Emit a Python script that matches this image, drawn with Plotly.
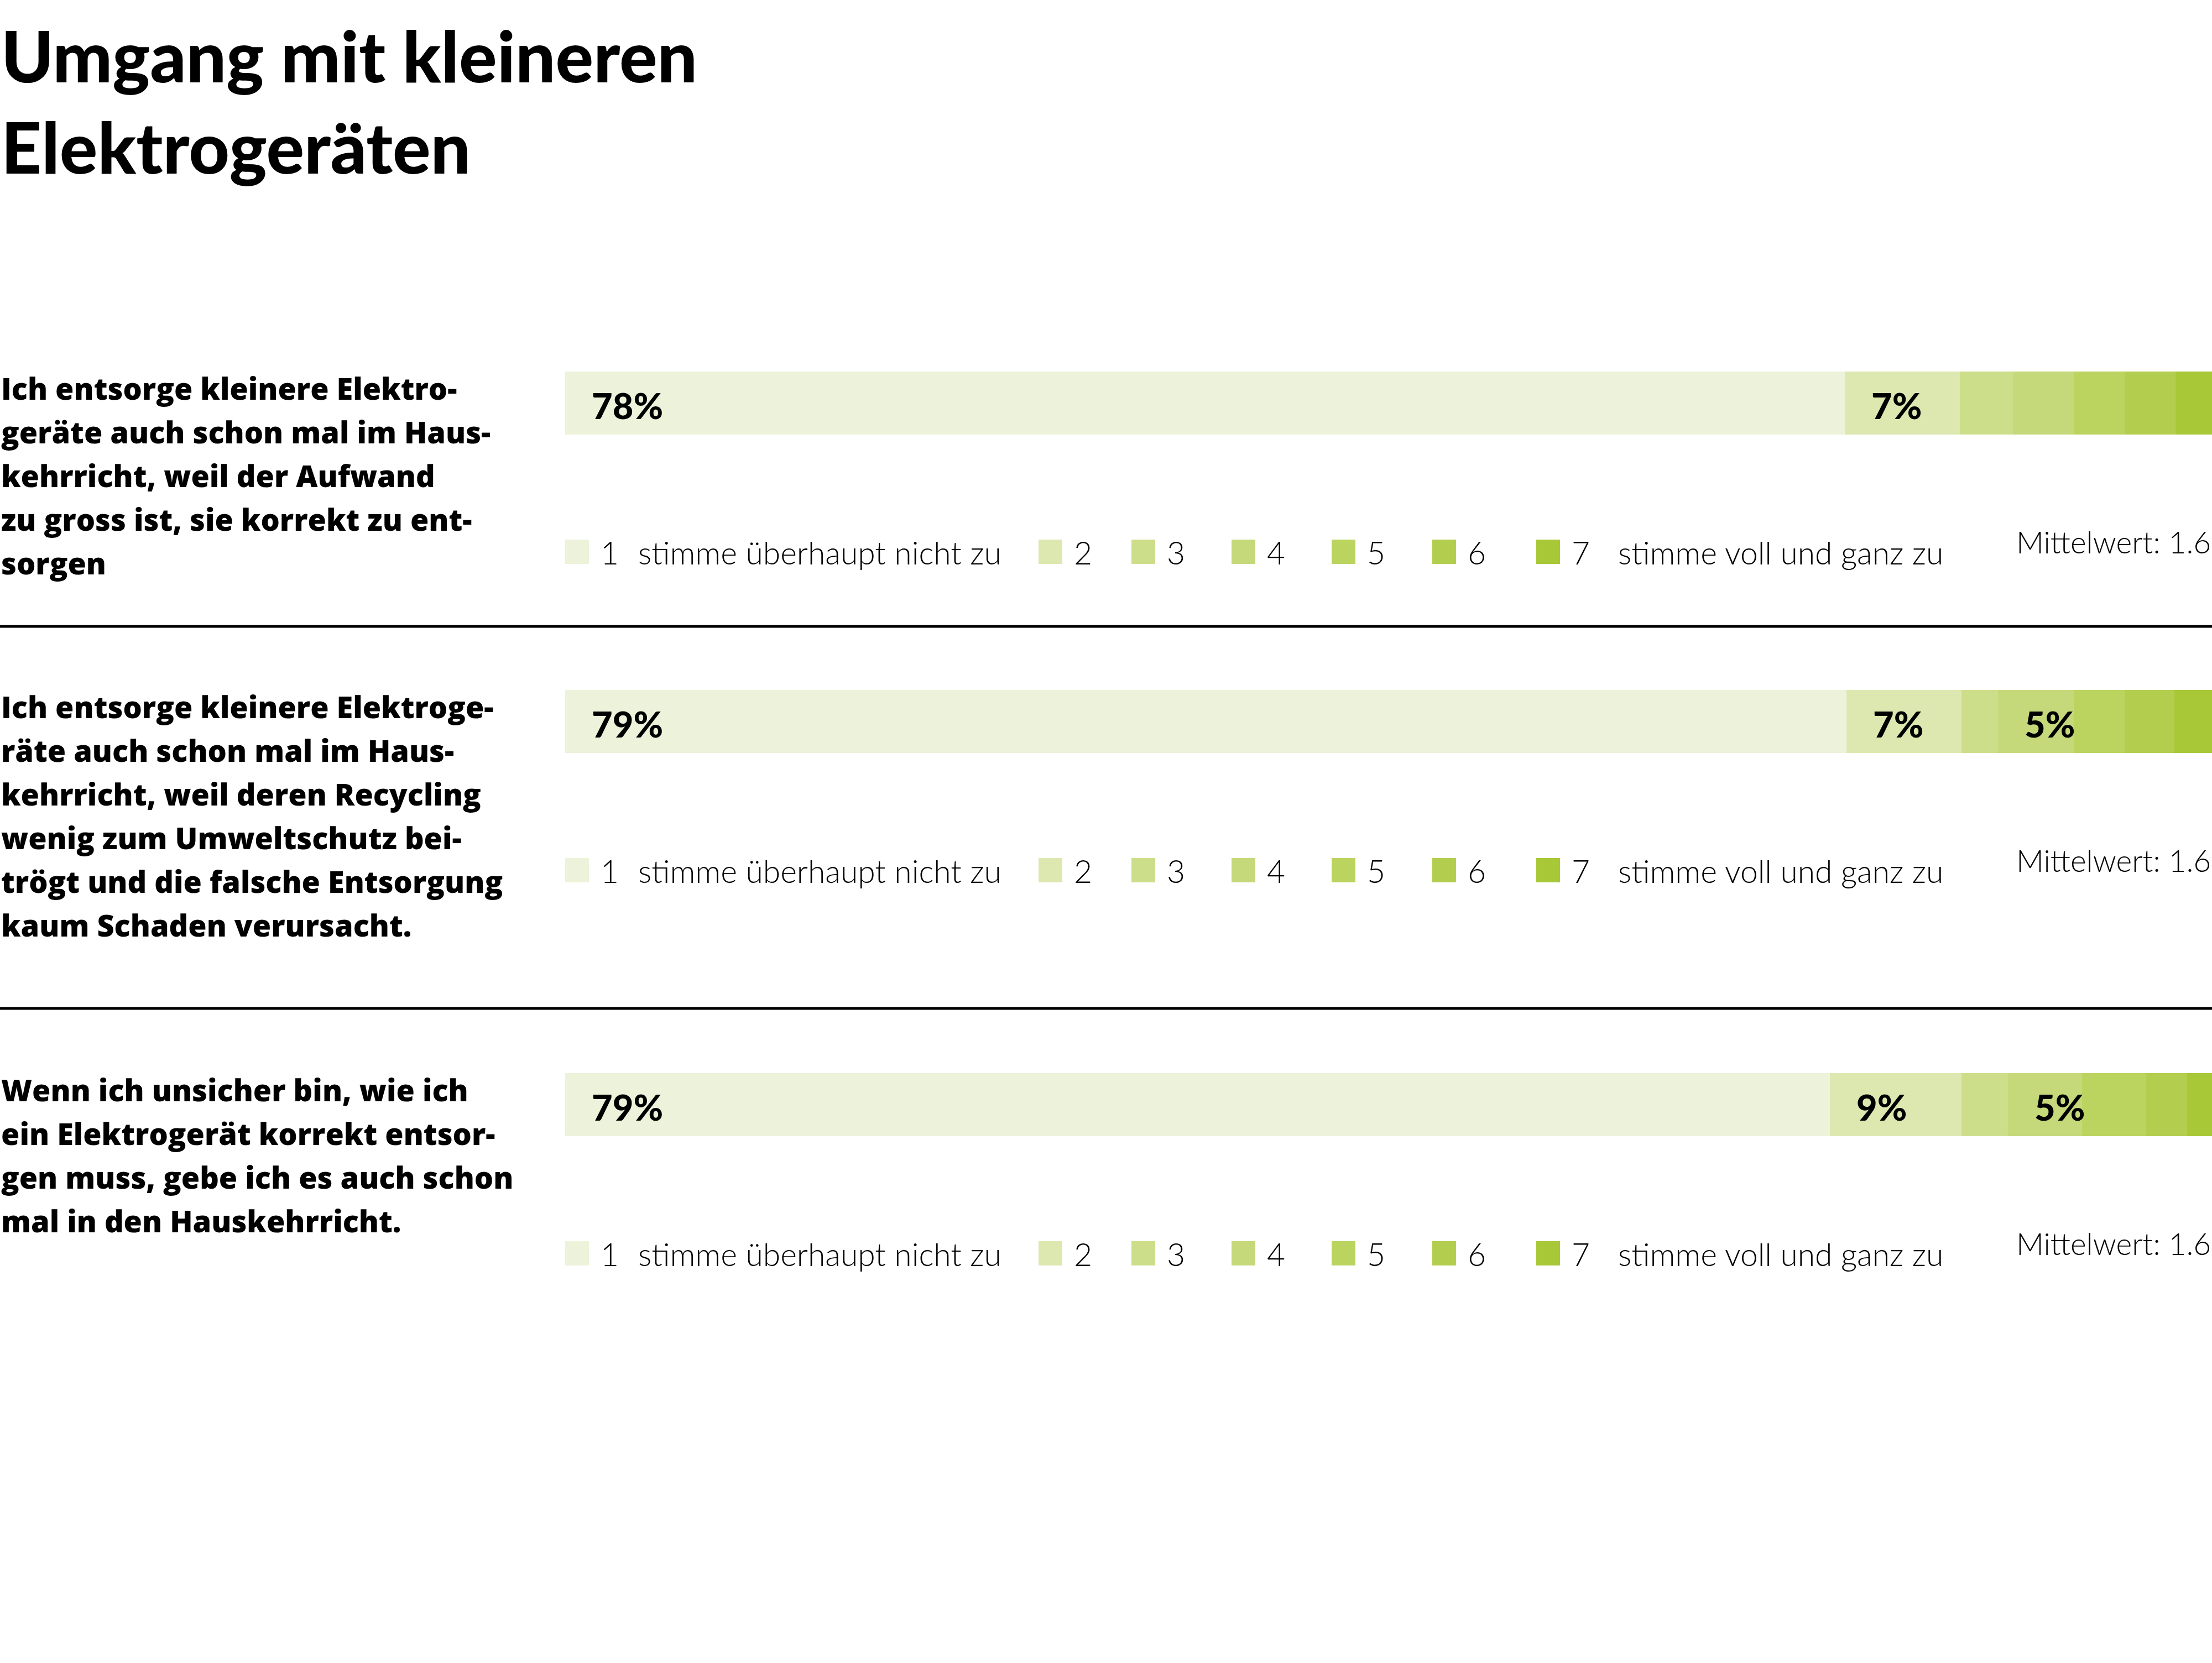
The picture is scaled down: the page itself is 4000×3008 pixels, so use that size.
import plotly.graph_objects as go

# ---- data -------------------------------------------------------------
title_lines = ["Umgang mit kleineren", "Elektrogeräten"]

statement_1 = ["Ich entsorge kleinere Elektro-", "geräte auch schon mal im Haus-",
               "kehrricht, weil der Aufwand", "zu gross ist, sie korrekt zu ent-", "sorgen"]
statement_2 = ["Ich entsorge kleinere Elektroge-", "räte auch schon mal im Haus-",
               "kehrricht, weil deren Recycling", "wenig zum Umweltschutz bei-",
               "trögt und die falsche Entsorgung", "kaum Schaden verursacht."]
statement_3 = ["Wenn ich unsicher bin, wie ich", "ein Elektrogerät korrekt entsor-",
               "gen muss, gebe ich es auch schon", "mal in den Hauskehrricht."]

scale_points = ["1", "2", "3", "4", "5", "6", "7"]
scale_low = "stimme überhaupt nicht zu"
scale_high = "stimme voll und ganz zu"

# share of answers per scale point (percent)
shares_1 = [77.7, 7.0, 3.2, 3.7, 3.1, 3.1, 2.2]
shares_2 = [77.8, 7.0, 2.2, 4.6, 3.1, 3.0, 2.3]
shares_3 = [76.8, 8.0, 2.8, 4.5, 3.9, 2.5, 1.5]

labels_1 = ["78%", "7%", "", "", "", "", ""]
labels_2 = ["79%", "7%", "", "5%", "", "", ""]
labels_3 = ["79%", "9%", "", "5%", "", "", ""]

means = [1.6, 1.6, 1.6]

# ---- style / layout ---------------------------------------------------
W, H = 4000, 3008
colors = ["#EDF3DA", "#DDE8B0", "#CDDE8A", "#C6D97A", "#BBD45F", "#B3CE4E", "#A8C838"]
bar_tops = [672, 1248, 1941]      # pixel rows of the three bars
bar_h = 114
bar_left = 1022
separators = [1133, 1824]
legend_sq_x = [1022, 1878, 2046, 2227, 2408, 2590, 2778]
sq = 44

FONT = "Lato, 'Open Sans', sans-serif"
TEXT_FONT = "'Open Sans', Lato, sans-serif"


def fx(p):
    return p / W


def fy(p):
    return 1 - p / H


statements = [statement_1, statement_2, statement_3]
shares = [shares_1, shares_2, shares_3]
labels = [labels_1, labels_2, labels_3]

fig = go.Figure()
annotations = []
shapes = []

for i in range(3):
    ax = "" if i == 0 else str(i + 1)
    start = 0
    for j, v in enumerate(shares[i]):
        fig.add_trace(go.Bar(
            x=[v], y=[0], width=1, orientation="h",
            xaxis="x" + ax, yaxis="y" + ax,
            marker=dict(color=colors[j], line=dict(width=0)),
            showlegend=False, hoverinfo="skip",
        ))
        if labels[i][j]:
            annotations.append(dict(
                x=start, y=0, xref="x" + ax, yref="y" + ax, text=labels[i][j],
                xanchor="left", yanchor="middle", xshift=46, yshift=-4, showarrow=False,
                font=dict(family=FONT, size=65, color="#000000", weight=900),
            ))
        start += v

    top = bar_tops[i]
    fig.update_layout({
        "xaxis" + ax: dict(domain=[fx(bar_left), 1], range=[0, 100], visible=False,
                           fixedrange=True, anchor="y" + ax),
        "yaxis" + ax: dict(domain=[fy(top + bar_h), fy(top)], range=[-0.5, 0.5],
                           visible=False, fixedrange=True, anchor="x" + ax),
    })

    # statement text on the left
    for k, line in enumerate(statements[i]):
        annotations.append(dict(
            x=0, y=fy(top + 30 + 79 * k), xref="paper", yref="paper", text=line,
            xanchor="left", yanchor="middle", showarrow=False,
            font=dict(family=TEXT_FONT, size=54, color="#000000", weight=800),
        ))

    # legend row
    lc = top + bar_h / 2 + 269
    for j, p in enumerate(scale_points):
        x0 = legend_sq_x[j]
        shapes.append(dict(
            type="rect", xref="paper", yref="paper",
            x0=fx(x0), x1=fx(x0 + sq - 1), y0=fy(lc + sq / 2), y1=fy(lc - sq / 2),
            fillcolor=colors[j], line=dict(width=0),
        ))
        annotations.append(dict(
            x=fx(x0 + 62), y=fy(lc + 1), xref="paper", yref="paper", text=p,
            xanchor="left", yanchor="middle", showarrow=False,
            font=dict(family=FONT, size=57, color="#000000", weight=300),
        ))
    annotations.append(dict(
        x=fx(legend_sq_x[0] + 130), y=fy(lc + 1), xref="paper", yref="paper", text=scale_low,
        xanchor="left", yanchor="middle", showarrow=False,
        font=dict(family=FONT, size=57, color="#000000", weight=300),
    ))
    annotations.append(dict(
        x=fx(legend_sq_x[6] + 146), y=fy(lc + 1), xref="paper", yref="paper", text=scale_high,
        xanchor="left", yanchor="middle", showarrow=False,
        font=dict(family=FONT, size=57, color="#000000", weight=300),
    ))
    annotations.append(dict(
        x=1, y=fy(lc - 18), xref="paper", yref="paper", text=f"Mittelwert: {means[i]}",
        xanchor="right", yanchor="middle", showarrow=False,
        font=dict(family=FONT, size=55, color="#000000", weight=300),
    ))

for s in separators:
    shapes.append(dict(type="line", xref="paper", yref="paper", x0=0, x1=1,
                       y0=fy(s), y1=fy(s), line=dict(color="#000000", width=5)))

annotations.append(dict(
    x=0, y=fy(100), xref="paper", yref="paper", text=title_lines[0],
    xanchor="left", yanchor="middle", showarrow=False,
    font=dict(family=FONT, size=128, color="#000000", weight=900),
))
annotations.append(dict(
    x=0, y=fy(265), xref="paper", yref="paper", text=title_lines[1],
    xanchor="left", yanchor="middle", showarrow=False,
    font=dict(family=FONT, size=128, color="#000000", weight=900),
))

fig.update_layout(
    width=W, height=H,
    margin=dict(l=0, r=0, t=0, b=0),
    paper_bgcolor="white", plot_bgcolor="white",
    barmode="stack", bargap=0,
    annotations=annotations, shapes=shapes,
)

fig.write_html("out.html", config={"displayModeBar": False},
               post_script="document.body.style.margin='0';")
